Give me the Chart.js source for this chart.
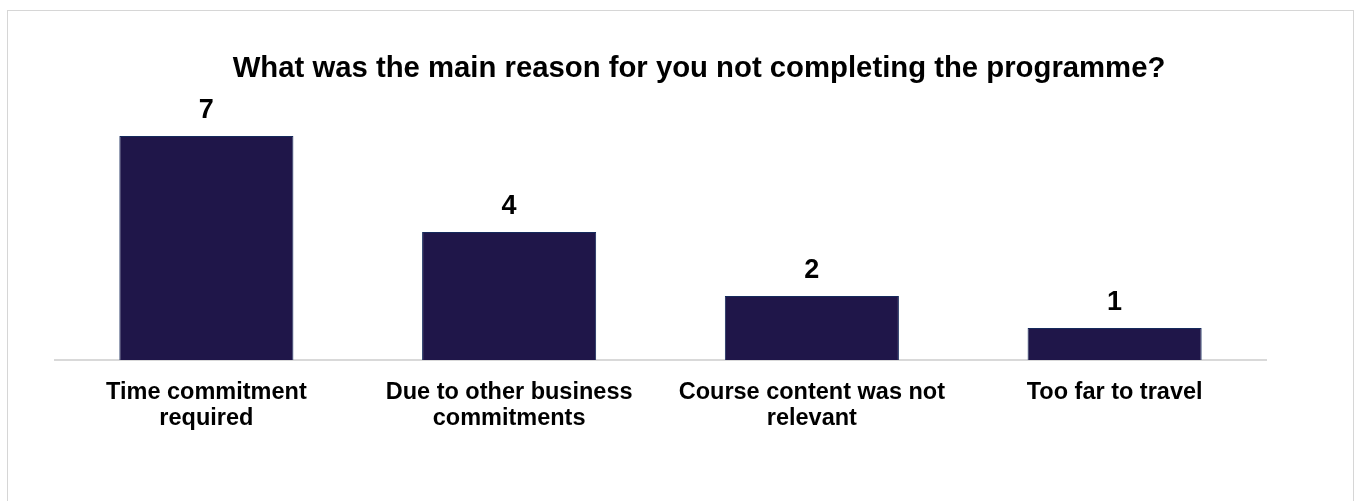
<!DOCTYPE html>
<html>
<head>
<meta charset="utf-8">
<script src="https://cdn.jsdelivr.net/npm/chart.js@4/dist/chart.umd.min.js"></script>
<style>
  html, body { margin: 0; padding: 0; background: #fff; }
  .frame {
    position: absolute;
    left: 7px;
    top: 10px;
    width: 1347px;
    height: 520px;
    border: 1px solid #d6d6d6;
    box-sizing: border-box;
  }
  .chart-box {
    position: absolute;
    left: 0;
    top: 0;
    width: 1356px;
    height: 501px;
  }
</style>
</head>
<body>
<div class="frame"></div>
<div class="chart-box"><canvas id="reasonChart"></canvas></div>
<script>
const FONT = "Arial, 'Liberation Sans', Helvetica, sans-serif";

const titleText = "What was the main reason for you not completing the programme?";
const categories = [
  ["Time commitment", "required"],
  ["Due to other business", "commitments"],
  ["Course content was not", "relevant"],
  ["Too far to travel"]
];
const responses = [7, 4, 2, 1];

// Heading sits a little right of the plot centre
const chartHeading = {
  id: "chartHeading",
  afterDraw(chart) {
    const ctx = chart.ctx;
    const area = chart.chartArea;
    ctx.save();
    ctx.font = "bold 29.3px " + FONT;
    ctx.fillStyle = "#000";
    ctx.textAlign = "center";
    ctx.textBaseline = "alphabetic";
    ctx.fillText(titleText, (area.left + area.right) / 2 + 38.5, 77);
    ctx.restore();
  }
};

// Prints the count above each bar
const barValueLabels = {
  id: "barValueLabels",
  afterDatasetsDraw(chart) {
    const ctx = chart.ctx;
    const meta = chart.getDatasetMeta(0);
    ctx.save();
    ctx.font = "bold 27px " + FONT;
    ctx.fillStyle = "#000";
    ctx.textAlign = "center";
    ctx.textBaseline = "alphabetic";
    meta.data.forEach((bar, i) => {
      ctx.fillText(String(chart.data.datasets[0].data[i]), bar.x, bar.y - 18);
    });
    ctx.restore();
  }
};

function initReasonChart() {
  const ctx = document.getElementById("reasonChart").getContext("2d");

  const data = {
    labels: categories,
    datasets: [
      {
        data: responses,
        backgroundColor: "#1f1649",
        borderColor: "#152a5c",
        borderWidth: 1,
        categoryPercentage: 1,
        barPercentage: 0.575,
      },
    ],
  };

  const config = {
    type: "bar",
    data: data,
    options: {
      responsive: true,
      maintainAspectRatio: false,
      animation: false,
      layout: {
        padding: { left: 55, right: 90, top: 104, bottom: 58 },
      },
      plugins: {
        legend: { display: false },
        tooltip: { enabled: false },
        title: { display: false },
      },
      scales: {
        y: {
          display: false,
          min: 0,
          max: 8,
        },
        x: {
          grid: { display: false },
          border: { display: true, color: "#d9d9d9", width: 2 },
          ticks: {
            color: "#000",
            padding: 11,
            maxRotation: 0,
            font: { family: FONT, size: 23.5, weight: "bold", lineHeight: 1.13 },
          },
        },
      },
    },
    plugins: [barValueLabels, chartHeading],
  };

  new Chart(ctx, config);
}

document.addEventListener("DOMContentLoaded", initReasonChart);
</script>
</body>
</html>
